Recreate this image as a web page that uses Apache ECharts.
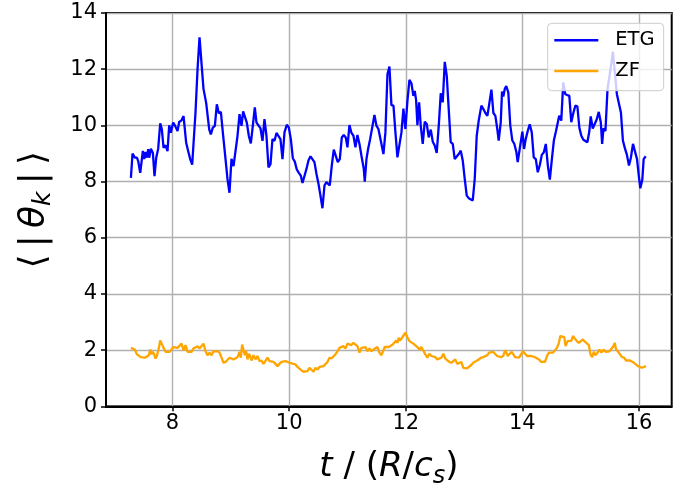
<!DOCTYPE html>
<html><head><meta charset="utf-8">
<script src="https://cdn.jsdelivr.net/npm/echarts@6/dist/echarts.min.js"></script>
<style>html,body{margin:0;padding:0;background:#fff}#c{width:681px;height:488px}</style>
</head><body><div id="c"></div>
<script>
const xTicks = [8, 10, 12, 14, 16];
const seriesNames = ['ETG', 'ZF'];
const etgPoints = [
[7.286,8.13],[7.314,9.0],[7.354,8.85],[7.389,8.85],[7.411,8.73],[7.446,8.31],[7.469,8.25],[7.491,9.09],[7.514,8.8],[7.537,9.05],
[7.56,8.85],[7.583,9.15],[7.6,8.85],[7.629,9.17],[7.663,9.02],[7.691,8.19],[7.72,8.85],[7.754,9.17],[7.789,10.07],[7.817,9.86],
[7.846,9.2],[7.88,9.29],[7.914,9.08],[7.943,10.0],[7.971,9.74],[8.011,10.1],[8.04,10.0],[8.086,9.8],[8.114,10.12],[8.154,10.18],
[8.189,10.33],[8.234,9.38],[8.269,9.08],[8.303,8.8],[8.337,8.6],[8.394,10.46],[8.429,12.0],[8.463,13.13],[8.497,13.1],[8.531,11.3],
[8.577,10.8],[8.629,9.86],[8.657,9.68],[8.691,9.92],[8.726,9.98],[8.76,10.75],[8.794,10.43],[8.829,10.48],[8.863,9.74],[8.909,8.8],
[8.943,8.08],[8.977,7.6],[9.011,8.81],[9.046,8.55],[9.08,9.08],[9.114,9.62],[9.149,10.4],[9.183,9.98],[9.211,10.5],[9.24,10.57],
[9.274,10.1],[9.309,9.62],[9.343,9.36],[9.383,10.1],[9.411,10.64],[9.44,10.1],[9.474,10.0],[9.509,9.89],[9.543,9.45],[9.577,10.22],
[9.611,9.63],[9.646,8.5],[9.68,8.62],[9.714,9.51],[9.749,9.45],[9.783,9.73],[9.817,9.73],[9.851,9.51],[9.886,8.8],[9.92,9.75],
[9.96,10.02],[9.994,9.93],[10.029,9.51],[10.063,8.83],[10.097,8.71],[10.131,8.43],[10.166,8.31],[10.2,8.21],[10.229,7.95],[10.263,7.98],
[10.297,8.45],[10.331,8.75],[10.366,8.9],[10.4,8.95],[10.434,8.69],[10.469,8.27],[10.503,7.92],[10.537,7.5],[10.571,7.05],[10.606,7.86],
[10.64,7.98],[10.674,7.98],[10.697,7.86],[10.731,8.57],[10.766,9.14],[10.8,9.18],[10.834,8.69],[10.869,8.8],[10.903,9.57],[10.937,9.66],
[10.971,9.57],[11.0,9.22],[11.034,10.01],[11.069,9.73],[11.103,9.63],[11.137,9.22],[11.171,9.66],[11.206,9.34],[11.24,8.92],[11.263,8.9],
[11.28,8.45],[11.297,8.0],[11.326,8.8],[11.354,9.16],[11.389,9.51],[11.423,9.51],[11.463,10.37],[11.497,9.99],[11.531,9.87],[11.571,9.46],
[11.617,8.98],[11.651,9.75],[11.686,11.82],[11.72,12.09],[11.754,10.72],[11.789,10.7],[11.823,9.75],[11.857,8.86],[11.891,8.83],[11.926,9.75],
[11.96,10.6],[11.994,9.87],[12.029,10.88],[12.063,11.62],[12.097,11.5],[12.131,11.05],[12.154,11.23],[12.177,10.91],[12.2,10.01],[12.229,10.82],
[12.257,9.99],[12.291,9.34],[12.326,10.13],[12.36,10.05],[12.394,9.57],[12.429,9.85],[12.463,9.42],[12.497,9.28],[12.531,9.02],[12.566,9.99],
[12.6,11.14],[12.634,10.82],[12.669,12.26],[12.703,11.76],[12.737,10.57],[12.771,9.4],[12.806,9.34],[12.84,8.8],[12.874,8.86],[12.909,8.98],
[12.943,9.1],[12.977,8.75],[13.011,8.1],[13.046,7.5],[13.08,7.41],[13.114,7.41],[13.149,7.33],[13.183,8.1],[13.217,9.63],[13.251,10.17],
[13.297,10.7],[13.331,10.58],[13.366,10.44],[13.4,10.34],[13.434,10.79],[13.469,11.27],[13.503,10.44],[13.537,10.34],[13.571,9.85],[13.594,9.46],
[13.629,10.11],[13.651,11.2],[13.674,11.03],[13.697,11.29],[13.724,11.4],[13.759,11.17],[13.793,9.99],[13.828,9.46],[13.862,9.34],[13.897,9.05],
[13.92,8.69],[13.954,9.16],[14.0,9.78],[14.029,9.16],[14.057,9.51],[14.092,9.8],[14.126,10.04],[14.161,9.75],[14.195,8.86],[14.23,8.8],
[14.264,8.33],[14.299,8.59],[14.333,8.95],[14.368,9.04],[14.402,9.34],[14.437,8.57],[14.471,8.07],[14.506,8.8],[14.54,9.46],[14.575,9.78],
[14.609,9.8],[14.632,10.34],[14.667,10.17],[14.701,11.53],[14.736,11.11],[14.77,11.08],[14.805,11.05],[14.839,10.11],[14.874,10.44],[14.908,10.7],
[14.943,10.68],[14.977,9.92],[15.011,9.63],[15.046,9.49],[15.08,9.42],[15.115,9.4],[15.149,9.8],[15.172,10.32],[15.207,9.89],[15.241,9.93],
[15.276,10.22],[15.31,10.48],[15.345,10.11],[15.368,9.34],[15.391,9.89],[15.425,9.8],[15.46,11.29],[15.494,11.35],[15.529,12.24],[15.552,12.62],
[15.586,11.88],[15.621,11.11],[15.655,11.05],[15.69,10.46],[15.724,9.46],[15.759,9.18],[15.793,8.95],[15.828,8.57],[15.862,8.86],[15.897,9.34],
[15.931,9.34],[15.966,8.8],[16.0,8.15],[16.023,7.76],[16.057,8.07],[16.08,8.8],[16.115,8.9]
];
const zfPoints = [
[7.286,2.08],[7.32,2.14],[7.354,2.02],[7.389,1.85],[7.423,1.82],[7.457,1.75],[7.491,1.82],[7.526,1.73],[7.56,1.75],[7.594,1.82],
[7.617,2.02],[7.64,1.85],[7.663,1.94],[7.686,1.85],[7.709,1.7],[7.731,1.79],[7.766,2.08],[7.789,2.34],[7.817,2.34],[7.846,2.08],
[7.88,1.94],[7.914,1.99],[7.949,1.94],[7.983,1.96],[8.017,2.11],[8.051,2.06],[8.086,2.08],[8.12,2.08],[8.154,2.23],[8.189,1.99],
[8.223,2.18],[8.257,1.94],[8.291,1.87],[8.326,1.94],[8.36,2.06],[8.394,2.06],[8.429,2.14],[8.463,2.06],[8.497,2.08],[8.531,2.23],
[8.566,1.96],[8.6,1.82],[8.634,1.91],[8.669,1.82],[8.703,1.96],[8.737,1.96],[8.771,1.96],[8.806,1.91],[8.84,1.73],[8.874,1.55],
[8.909,1.58],[8.943,1.61],[8.977,1.73],[9.011,1.75],[9.046,1.67],[9.08,1.63],[9.114,1.75],[9.149,1.94],[9.171,1.73],[9.194,2.2],
[9.217,2.23],[9.24,1.82],[9.263,1.96],[9.286,1.67],[9.309,1.87],[9.331,1.79],[9.354,1.63],[9.389,1.82],[9.423,1.67],[9.457,1.79],
[9.491,1.61],[9.526,1.63],[9.56,1.51],[9.594,1.58],[9.629,1.73],[9.663,1.61],[9.697,1.55],[9.731,1.58],[9.766,1.51],[9.8,1.43],
[9.834,1.51],[9.869,1.58],[9.903,1.61],[9.937,1.61],[9.971,1.58],[10.006,1.55],[10.04,1.58],[10.074,1.51],[10.109,1.49],[10.143,1.4],
[10.177,1.35],[10.211,1.28],[10.246,1.23],[10.28,1.16],[10.314,1.25],[10.349,1.37],[10.383,1.31],[10.417,1.23],[10.451,1.37],[10.486,1.31],
[10.52,1.4],[10.554,1.37],[10.589,1.43],[10.623,1.43],[10.657,1.58],[10.691,1.73],[10.726,1.7],[10.76,1.73],[10.794,1.85],[10.829,1.96],
[10.863,2.08],[10.897,2.06],[10.931,2.14],[10.966,2.06],[11.0,2.23],[11.034,2.3],[11.069,2.18],[11.103,2.26],[11.137,2.26],[11.171,2.14],
[11.206,1.91],[11.24,2.08],[11.274,2.02],[11.309,2.11],[11.343,1.96],[11.377,2.06],[11.411,1.96],[11.446,2.02],[11.48,1.96],[11.514,2.11],
[11.549,1.91],[11.583,1.82],[11.617,1.85],[11.64,2.11],[11.674,2.14],[11.709,2.11],[11.743,2.14],[11.777,2.2],[11.801,2.26],[11.835,2.34],
[11.858,2.26],[11.88,2.44],[11.903,2.34],[11.937,2.44],[11.96,2.38],[11.994,2.62],[12.028,2.46],[12.063,2.32],[12.097,2.26],[12.131,2.23],
[12.165,2.2],[12.199,2.11],[12.234,2.02],[12.268,2.11],[12.302,2.06],[12.336,1.85],[12.37,1.73],[12.405,1.87],[12.439,1.79],[12.473,1.82],
[12.507,1.75],[12.541,1.67],[12.575,1.7],[12.61,1.73],[12.644,1.87],[12.678,1.7],[12.712,1.63],[12.746,1.58],[12.781,1.55],[12.815,1.61],
[12.849,1.67],[12.883,1.51],[12.917,1.47],[12.952,1.58],[12.986,1.37],[13.02,1.35],[13.054,1.35],[13.088,1.4],[13.123,1.47],[13.157,1.55],
[13.191,1.58],[13.225,1.63],[13.259,1.67],[13.293,1.73],[13.328,1.75],[13.362,1.79],[13.396,1.82],[13.43,1.91],[13.464,1.87],[13.499,1.94],
[13.533,1.99],[13.567,1.79],[13.601,1.73],[13.635,1.75],[13.67,1.79],[13.704,1.99],[13.726,1.91],[13.749,1.79],[13.783,1.85],[13.818,1.94],
[13.852,1.87],[13.875,1.75],[13.909,1.82],[13.943,1.73],[13.977,1.85],[14.011,1.96],[14.046,1.87],[14.08,1.79],[14.114,1.73],[14.148,1.79],
[14.182,1.82],[14.217,1.75],[14.251,1.73],[14.285,1.67],[14.319,1.58],[14.353,1.55],[14.387,1.58],[14.422,1.79],[14.456,1.91],[14.49,1.87],
[14.524,1.91],[14.558,1.87],[14.593,2.08],[14.627,2.26],[14.65,2.5],[14.684,2.44],[14.718,2.46],[14.741,2.14],[14.775,2.32],[14.809,2.26],
[14.843,2.34],[14.866,2.5],[14.9,2.44],[14.934,2.32],[14.969,2.26],[15.003,2.32],[15.037,2.38],[15.071,2.3],[15.105,2.26],[15.14,2.18],
[15.168,1.85],[15.197,1.75],[15.225,1.94],[15.254,1.82],[15.288,1.91],[15.322,2.02],[15.356,1.91],[15.39,2.02],[15.425,1.94],[15.459,1.99],
[15.493,1.96],[15.527,2.01],[15.561,2.14],[15.584,2.26],[15.607,2.02],[15.641,1.94],[15.675,1.87],[15.709,1.75],[15.744,1.73],[15.778,1.63],
[15.812,1.58],[15.846,1.63],[15.88,1.61],[15.915,1.55],[15.949,1.49],[15.983,1.43],[16.017,1.4],[16.051,1.37],[16.085,1.4],[16.12,1.43]
];
const F = 'DejaVu Sans';
const chart = echarts.init(document.getElementById('c'), null, {renderer: 'canvas'});
chart.setOption({
  animation: false,
  backgroundColor: '#fff',
  grid: {left: 106, top: 13, right: 9.3, bottom: 81.7, show: true, borderColor: '#000', borderWidth: 2, outerBoundsMode: 'none', containLabel: false},
  xAxis: {
    type: 'value', min: 6.859, max: 16.561,
    axisLine: {show: true, onZero: false, lineStyle: {color: '#000', width: 2}},
    axisTick: {show: true, length: 5, customValues: xTicks, lineStyle: {color: '#000', width: 1.5}},
    axisLabel: {customValues: xTicks, fontSize: 21, fontFamily: F, color: '#000', margin: 7},
    splitLine: {show: true, customValues: xTicks, lineStyle: {color: '#b0b0b0', width: 1.4}},
    name: '{i|t} / ({i|R}/{i|c}{s|s})', nameLocation: 'middle', nameGap: 40,
    nameTextStyle: {fontSize: 34, fontFamily: F, color: '#000',
      rich: {i: {fontStyle: 'italic', fontSize: 34, fontFamily: F}, s: {fontStyle: 'italic', fontSize: 24, fontFamily: F, padding: [18, 0, 0, 0]}}}
  },
  yAxis: {
    type: 'value', min: 0, max: 14, interval: 2,
    axisLine: {show: true, lineStyle: {color: '#000', width: 2}},
    axisTick: {show: true, length: 5, lineStyle: {color: '#000', width: 1.5}},
    axisLabel: {fontSize: 21, fontFamily: F, color: '#000', margin: 9},
    splitLine: {show: true, lineStyle: {color: '#b0b0b0', width: 1.4}},
    name: '⟨\u2009|\u2009{i|θ}{s|k}\u2009|\u2009⟩', nameLocation: 'middle', nameRotate: 90, nameGap: 50,
    nameTextStyle: {fontSize: 36, fontFamily: F, color: '#000',
      rich: {i: {fontStyle: 'italic', fontSize: 36, fontFamily: F}, s: {fontStyle: 'italic', fontSize: 25, fontFamily: F, padding: [18, 0, 0, 0]}}}
  },
  legend: {
    orient: 'vertical', left: 547.7, top: 23.3, padding: [7, 9, 9.7, 6.6], itemGap: 10.7,
    itemWidth: 44, itemHeight: 2.5, icon: 'rect',
    backgroundColor: 'rgba(255,255,255,0.8)', borderColor: '#cccccc', borderWidth: 1, borderRadius: 4,
    textStyle: {fontSize: 19.5, fontFamily: F, color: '#000', lineHeight: 20, padding: [0, 0, 0, 12]},
    data: seriesNames
  },
  series: [
    {name: seriesNames[0], type: 'line', data: etgPoints, showSymbol: false, symbol: 'none', color: '#0000ff', lineStyle: {color: '#0000ff', width: 2.3}},
    {name: seriesNames[1], type: 'line', data: zfPoints, showSymbol: false, symbol: 'none', color: '#ffa500', lineStyle: {color: '#ffa500', width: 2.3}}
  ]
});
</script></body></html>
